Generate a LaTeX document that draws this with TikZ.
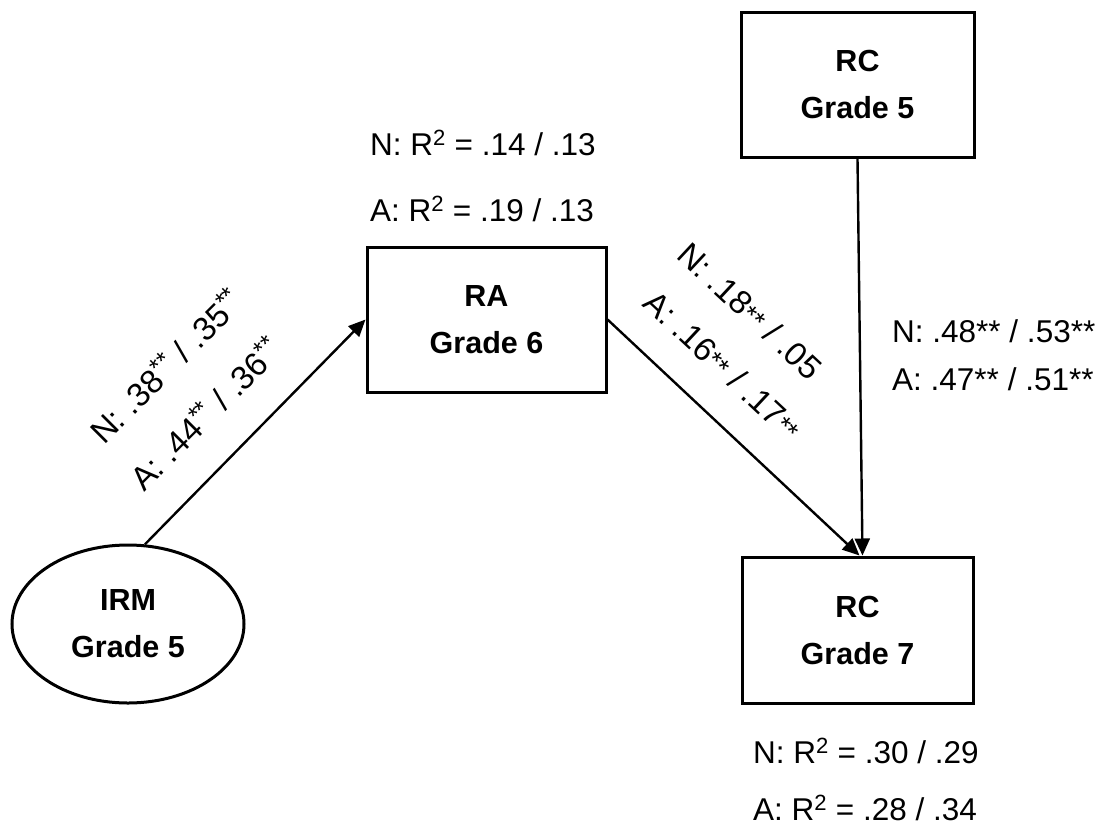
\documentclass[tikz,border=0pt]{standalone}
\usepackage{fontspec}
\setmainfont{Liberation Sans}
\usetikzlibrary{arrows.meta,calc,shapes.geometric}
\newcommand{\sig}{\raisebox{0.3em}{\fontsize{25}{25}\selectfont**}}
\newcommand{\sigl}{{\fontsize{27}{27}\selectfont**}}
\begin{document}
\begin{tikzpicture}[x=1pt,y=-1pt,
  box/.style={draw,line width=3pt,align=center,inner sep=0pt,
    font=\fontsize{30.5}{47}\selectfont\bfseries},
  oval/.style={box,ellipse},
  link/.style={line width=2.4pt,-{Triangle[length=17pt,width=15pt]}},
  lbl/.style={inner sep=0pt,font=\fontsize{31.5}{37}\selectfont},
  rlbl/.style={inner sep=0pt,font=\fontsize{33}{37}\selectfont}]
\useasboundingbox (0,0) rectangle (1101,825);

% variables
\node[box,minimum width=239pt,minimum height=145pt] (ra)  at (486.5,319.5) {RA\\Grade 6};
\node[box,minimum width=233pt,minimum height=145pt] (rc5) at (857.5,84.5)  {RC\\Grade 5};
\node[box,minimum width=231pt,minimum height=146pt] (rc7) at (857.5,630)   {RC\\Grade 7};
\node[oval,minimum width=232pt,minimum height=158pt] (irm) at (128,624)    {IRM\\Grade 5};

% paths
\draw[link] (irm.78) -- (ra.west);
\draw[link] (ra.east) -- ($(rc7.north)+(2,0)$);
\draw[link] (rc5.south) -- ($(rc7.north)+(5,0)$);

% explained variance
\node[lbl,anchor=base west] (raN) at (370,155) {N: R\textsuperscript{2} = .14 / .13};
\node[lbl,anchor=base west] (raA) at (370,221) {A: R\textsuperscript{2} = .19 / .13};
\node[lbl,anchor=base west] (rcN) at (753,763) {N: R\textsuperscript{2} = .30 / .29};
\node[lbl,anchor=base west] (rcA) at (753,820) {A: R\textsuperscript{2} = .28 / .34};

% path coefficients
\node[lbl,anchor=base west] (cN) at (892,342) {N: .48** / .53**};
\node[lbl,anchor=base west] (cA) at (892,390) {A: .47** / .51**};
\node[rlbl,anchor=base west,rotate=45] (aN) at (104,446) {N: .38\sig{} / .35\sig};
\node[rlbl,anchor=base west,rotate=45] (aA) at (144,493) {A: .44\sig{} / .36\sig};
\node[rlbl,anchor=base west,rotate=-43] (bN) at (675,257) {N: .18\sigl{} / .05};
\node[rlbl,anchor=base west,rotate=-43] (bA) at (641,305) {A: .16\sigl{} / .17\sigl};
\end{tikzpicture}
\end{document}
